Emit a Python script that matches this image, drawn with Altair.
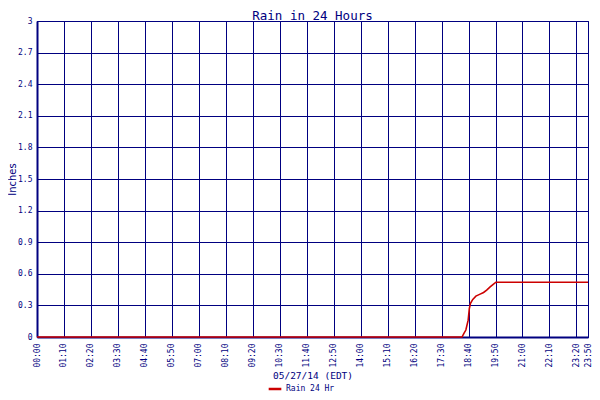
import altair as alt
import pandas as pd

# Time of day in minutes after midnight, and rainfall in inches
minutes = [0, 1103, 1108, 1113, 1119, 1122, 1125, 1131, 1139, 1150, 1159, 1167, 1176, 1184, 1191, 1430]
rain = [0.0, 0.0, 0.035, 0.066, 0.16, 0.27, 0.32, 0.357, 0.388, 0.407, 0.423, 0.445, 0.476, 0.50, 0.52, 0.52]
series_name = ["Rain 24 Hr"] * len(minutes)

x_ticks = [0, 70, 140, 210, 280, 350, 420, 490, 560, 630, 700, 770, 840, 910, 980, 1050,
           1120, 1190, 1260, 1330, 1400, 1430]
y_ticks = [0, 0.3, 0.6, 0.9, 1.2, 1.5, 1.8, 2.1, 2.4, 2.7, 3.0]

df = pd.DataFrame({"minute": minutes, "rain": rain, "series": series_name})

NAVY = "#000080"
MONO = "DejaVu Sans Mono"
PLOT_W = 551
PLOT_H = 316

chart = alt.Chart(df).mark_line(strokeWidth=1.6).encode(
    x=alt.X(
        "minute:Q",
        scale=alt.Scale(domain=[0, 1430], nice=False, zero=True),
        axis=alt.Axis(
            values=x_ticks,
            labelExpr="utcFormat(datum.value * 60000, '%H:%M')",
            labelAngle=270,
            labelOverlap=False,
            labelFlush=False,
            labelFont=MONO,
            labelFontSize=8,
            labelColor=NAVY,
            labelPadding=6,
            ticks=False,
            grid=True,
            gridColor=NAVY,
            gridOpacity=1,
            gridWidth=1,
            domainColor=NAVY,
            domainWidth=2,
            title="05/27/14 (EDT)",
            titleFont=MONO,
            titleFontSize=9.5,
            titleFontWeight="normal",
            titleColor=NAVY,
            titlePadding=3,
        ),
    ),
    y=alt.Y(
        "rain:Q",
        scale=alt.Scale(domain=[0, 3], nice=False),
        axis=alt.Axis(
            values=y_ticks,
            format=".1~f",
            labelFont=MONO,
            labelFontSize=8,
            labelColor=NAVY,
            labelPadding=5,
            ticks=False,
            grid=True,
            gridColor=NAVY,
            gridOpacity=1,
            gridWidth=1,
            domainColor=NAVY,
            domainWidth=2,
            title="Inches",
            titleFont="DejaVu Sans",
            titleFontSize=10,
            titleFontWeight="normal",
            titleColor=NAVY,
            titleAngle=270,
            titleX=-25,
            titleY=PLOT_H / 2,
            titleAlign="center",
            titleBaseline="middle",
        ),
    ),
    color=alt.Color(
        "series:N",
        scale=alt.Scale(range=["#cc0000"]),
        legend=alt.Legend(
            title=None,
            orient="none",
            legendX=230,
            legendY=360,
            symbolType="stroke",
            symbolSize=160,
            symbolStrokeWidth=2.5,
            labelFont=MONO,
            labelFontSize=8,
            labelColor=NAVY,
            labelOffset=3,
        ),
    ),
).properties(
    width=PLOT_W,
    height=PLOT_H,
    title=alt.TitleParams(
        "Rain in 24 Hours",
        font=MONO,
        fontSize=12.5,
        fontWeight="normal",
        color=NAVY,
        anchor="middle",
        offset=-5,
    ),
    padding={"left": 29, "top": 13, "right": 4, "bottom": 55},
    autosize=alt.AutoSizeParams(type="none"),
    background="white",
).configure_view(stroke=NAVY, strokeWidth=1)

chart.save("out.html", embed_options={"renderer": "svg", "actions": False})
